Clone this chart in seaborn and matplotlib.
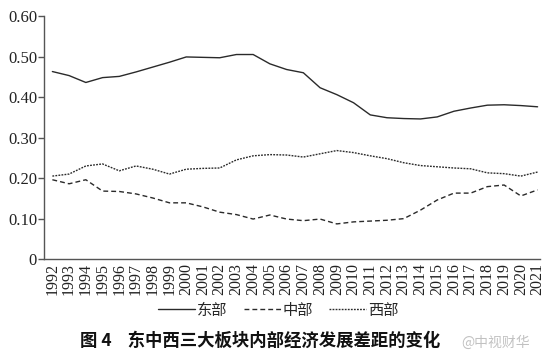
import numpy as np
import pandas as pd
import seaborn as sns
import matplotlib
matplotlib.use('Agg')
import matplotlib.pyplot as plt

## data
years = list(range(1992, 2022))
east = [0.463, 0.453, 0.436, 0.448, 0.451, 0.462, 0.474, 0.486, 0.499, 0.498,
        0.497, 0.505, 0.505, 0.482, 0.468, 0.460, 0.423, 0.406, 0.386, 0.356,
        0.349, 0.347, 0.346, 0.351, 0.365, 0.373, 0.380, 0.381, 0.379, 0.376]
middle = [0.196, 0.186, 0.196, 0.168, 0.167, 0.161, 0.151, 0.139, 0.139, 0.129,
          0.116, 0.110, 0.099, 0.109, 0.099, 0.095, 0.099, 0.087, 0.092, 0.094,
          0.096, 0.100, 0.121, 0.146, 0.163, 0.163, 0.179, 0.183, 0.156, 0.171]
west = [0.205, 0.210, 0.230, 0.235, 0.218, 0.230, 0.222, 0.210, 0.222, 0.224,
        0.225, 0.245, 0.255, 0.258, 0.257, 0.252, 0.260, 0.268, 0.263, 0.255,
        0.248, 0.238, 0.231, 0.228, 0.225, 0.223, 0.213, 0.211, 0.205, 0.215]
series_names = ['东部', '中部', '西部']
yticks = [0, 0.1, 0.2, 0.3, 0.4, 0.5, 0.6]
ytick_labels = ['0', '0.10', '0.20', '0.30', '0.40', '0.50', '0.60']
caption = '图 4    东中西三大板块内部经济发展差距的变化'

sns.set_theme(style='white')
plt.rcParams['font.family'] = ['Liberation Serif', 'Noto Sans CJK SC']
plt.rcParams['axes.unicode_minus'] = False

fig = plt.figure(figsize=(5.5, 3.64), dpi=100)
ax = fig.add_axes([0.08, 0.288, 0.902, 0.668])

line_col = '#2a2a2a'
styles = ['-', (0, (3.5, 2.2)), (0, (1.3, 0.9))]
for name, vals, ls in zip(series_names, [east, middle, west], styles):
  df = pd.DataFrame({'year': years, 'val': vals})
  sns.lineplot(data=df, x='year', y='val', ax=ax, color=line_col,
               linewidth=1.0, linestyle=ls, label=name)

ax.set_xlim(1991.5, 2021.15)
ax.set_ylim(0, 0.6)
ax.set_yticks(yticks)
ax.set_yticklabels(ytick_labels, fontsize=12)
ax.set_xticks(years)
ax.set_xticklabels([str(y) for y in years], rotation=90, fontsize=11.5)
ax.set_xlabel('')
ax.set_ylabel('')

for s in ['top', 'right']:
  ax.spines[s].set_visible(False)
for s in ['left', 'bottom']:
  ax.spines[s].set_color('#555555')
  ax.spines[s].set_linewidth(1.0)
ax.tick_params(axis='y', direction='out', length=4, width=1, color='#555555',
               pad=1, labelcolor='#222222', left=True)
ax.tick_params(axis='x', length=0, pad=3, labelcolor='#222222')

ax.legend(loc='center', bbox_to_anchor=(0.506, 0.148),
          bbox_transform=fig.transFigure, ncol=3, frameon=False,
          handlelength=2.4, handletextpad=0.1, columnspacing=1.1,
          prop={'family': ['Noto Sans CJK SC'], 'size': 11})

fig.text(0.145, 0.063, caption, ha='left', va='center', fontsize=12.5,
         fontweight='bold', family=['Noto Sans CJK SC'], color='#111111')
fig.text(0.838, 0.058, '@中视财华', ha='left', va='center', fontsize=10,
         family=['Noto Sans CJK SC'], color='#bbbbbb', alpha=0.9)

plt.savefig('out.png', dpi=100)
